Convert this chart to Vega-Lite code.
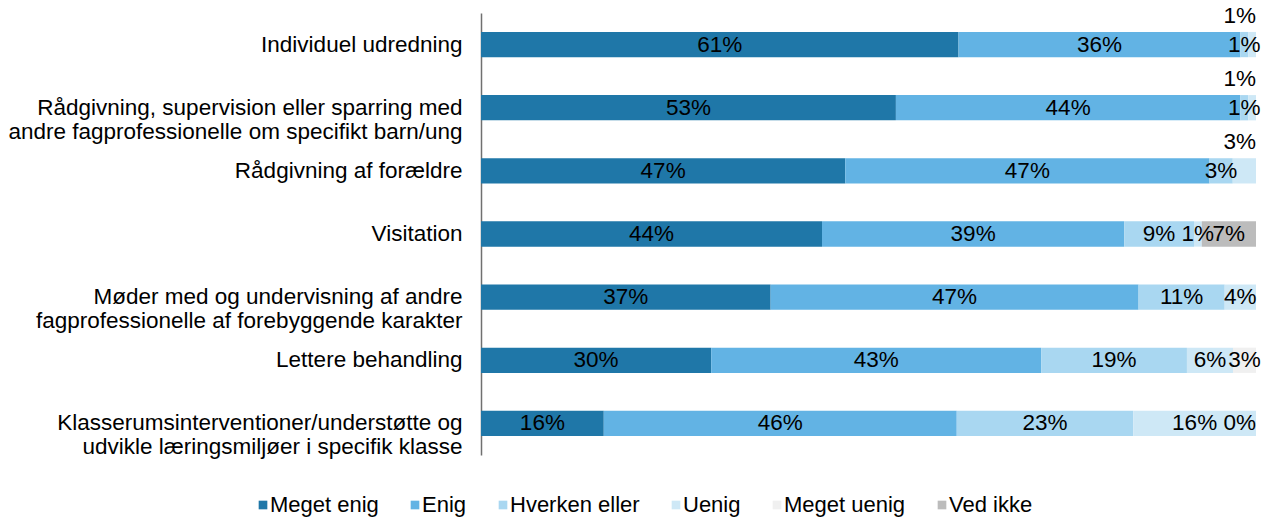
{
  "$schema": "https://vega.github.io/schema/vega-lite/v6.json",
  "width": 775,
  "height": 442,
  "autosize": {"type": "none"},
  "padding": {"left": 481, "top": 13, "right": 9, "bottom": 64},
  "background": "white",
  "config": {
    "view": {"stroke": null},
    "font": "Liberation Sans",
    "text": {"font": "Liberation Sans"}
  },
  "data": {
    "values": [
      {"cat": "Individuel udredning", "series": "Meget enig", "order": 1, "value": 61},
      {"cat": "Individuel udredning", "series": "Enig", "order": 2, "value": 36},
      {"cat": "Individuel udredning", "series": "Hverken eller", "order": 3, "value": 1},
      {"cat": "Individuel udredning", "series": "Uenig", "order": 4, "value": 1},
      {"cat": "Rådgivning, supervision eller sparring med|andre fagprofessionelle om specifikt barn/ung", "series": "Meget enig", "order": 1, "value": 53},
      {"cat": "Rådgivning, supervision eller sparring med|andre fagprofessionelle om specifikt barn/ung", "series": "Enig", "order": 2, "value": 44},
      {"cat": "Rådgivning, supervision eller sparring med|andre fagprofessionelle om specifikt barn/ung", "series": "Hverken eller", "order": 3, "value": 1},
      {"cat": "Rådgivning, supervision eller sparring med|andre fagprofessionelle om specifikt barn/ung", "series": "Uenig", "order": 4, "value": 1},
      {"cat": "Rådgivning af forældre", "series": "Meget enig", "order": 1, "value": 47},
      {"cat": "Rådgivning af forældre", "series": "Enig", "order": 2, "value": 47},
      {"cat": "Rådgivning af forældre", "series": "Hverken eller", "order": 3, "value": 3},
      {"cat": "Rådgivning af forældre", "series": "Uenig", "order": 4, "value": 3},
      {"cat": "Visitation", "series": "Meget enig", "order": 1, "value": 44},
      {"cat": "Visitation", "series": "Enig", "order": 2, "value": 39},
      {"cat": "Visitation", "series": "Hverken eller", "order": 3, "value": 9},
      {"cat": "Visitation", "series": "Uenig", "order": 4, "value": 1},
      {"cat": "Visitation", "series": "Ved ikke", "order": 6, "value": 7},
      {"cat": "Møder med og undervisning af andre|fagprofessionelle af forebyggende karakter", "series": "Meget enig", "order": 1, "value": 37},
      {"cat": "Møder med og undervisning af andre|fagprofessionelle af forebyggende karakter", "series": "Enig", "order": 2, "value": 47},
      {"cat": "Møder med og undervisning af andre|fagprofessionelle af forebyggende karakter", "series": "Hverken eller", "order": 3, "value": 11},
      {"cat": "Møder med og undervisning af andre|fagprofessionelle af forebyggende karakter", "series": "Uenig", "order": 4, "value": 4},
      {"cat": "Lettere behandling", "series": "Meget enig", "order": 1, "value": 30},
      {"cat": "Lettere behandling", "series": "Enig", "order": 2, "value": 43},
      {"cat": "Lettere behandling", "series": "Hverken eller", "order": 3, "value": 19},
      {"cat": "Lettere behandling", "series": "Uenig", "order": 4, "value": 6},
      {"cat": "Lettere behandling", "series": "Meget uenig", "order": 5, "value": 3},
      {"cat": "Klasserumsinterventioner/understøtte og|udvikle læringsmiljøer i specifik klasse", "series": "Meget enig", "order": 1, "value": 16},
      {"cat": "Klasserumsinterventioner/understøtte og|udvikle læringsmiljøer i specifik klasse", "series": "Enig", "order": 2, "value": 46},
      {"cat": "Klasserumsinterventioner/understøtte og|udvikle læringsmiljøer i specifik klasse", "series": "Hverken eller", "order": 3, "value": 23},
      {"cat": "Klasserumsinterventioner/understøtte og|udvikle læringsmiljøer i specifik klasse", "series": "Uenig", "order": 4, "value": 16},
      {"cat": "Klasserumsinterventioner/understøtte og|udvikle læringsmiljøer i specifik klasse", "series": "Meget uenig", "order": 5, "value": 0}
    ]
  },
  "transform": [
    {"stack": "value", "groupby": ["cat"], "sort": [{"field": "order"}], "as": ["v0", "v1"], "offset": "normalize"},
    {"calculate": "(datum.v0 + datum.v1) / 2", "as": "vmid"},
    {"calculate": "datum.value + '%'", "as": "label"},
    {"calculate": "datum.value == 0 ? 'end' : ((datum.series == 'Uenig' && (datum.cat == 'Individuel udredning' || indexof(datum.cat, 'Rådgivning') == 0)) ? 'above' : 'mid')", "as": "lblpos"}
  ],
  "encoding": {
    "y": {
      "field": "cat",
      "type": "nominal",
      "sort": null,
      "scale": {"paddingInner": 0.6, "paddingOuter": 0.3},
      "axis": {
        "title": null,
        "ticks": false,
        "domain": true,
        "domainColor": "#707070",
        "domainWidth": 1.5,
        "labelExpr": "split(datum.label, '|')",
        "labelFont": "Liberation Sans",
        "labelFontSize": 22.5,
        "labelColor": "#000000",
        "labelPadding": 19,
        "labelLineHeight": 24,
        "labelLimit": 500
      }
    }
  },
  "layer": [
    {
      "mark": {"type": "bar"},
      "encoding": {
        "x": {"field": "v0", "type": "quantitative", "scale": {"domain": [0, 1]}, "axis": null},
        "x2": {"field": "v1"},
        "color": {
          "field": "series",
          "type": "nominal",
          "scale": {
            "domain": ["Meget enig", "Enig", "Hverken eller", "Uenig", "Meget uenig", "Ved ikke"],
            "range": ["#1f77a8", "#62b3e4", "#a9d7f1", "#cee8f6", "#f0f0f0", "#bcbcbc"]
          },
          "legend": {
            "title": null,
            "orient": "none",
            "direction": "horizontal",
            "legendX": -229,
            "legendY": 481,
            "symbolType": "square",
            "symbolSize": 75,
            "symbolStrokeWidth": 0,
            "labelFont": "Liberation Sans",
            "labelFontSize": 22,
            "labelColor": "#000000",
            "labelOffset": -4,
            "columnPadding": 25,
            "labelLimit": 300
          }
        }
      }
    },
    {
      "transform": [{"filter": "datum.lblpos == 'mid'"}],
      "mark": {"type": "text", "fontSize": 22.5, "color": "#000000", "font": "Liberation Sans"},
      "encoding": {
        "x": {"field": "vmid", "type": "quantitative"},
        "text": {"field": "label"}
      }
    },
    {
      "transform": [{"filter": "datum.lblpos == 'end'"}],
      "mark": {"type": "text", "fontSize": 22.5, "color": "#000000", "font": "Liberation Sans", "align": "right"},
      "encoding": {
        "x": {"field": "v1", "type": "quantitative"},
        "text": {"field": "label"}
      }
    },
    {
      "transform": [{"filter": "datum.lblpos == 'above'"}],
      "mark": {"type": "text", "fontSize": 22.5, "color": "#000000", "font": "Liberation Sans", "align": "right", "dy": -29},
      "encoding": {
        "x": {"field": "v1", "type": "quantitative"},
        "text": {"field": "label"}
      }
    }
  ]
}
